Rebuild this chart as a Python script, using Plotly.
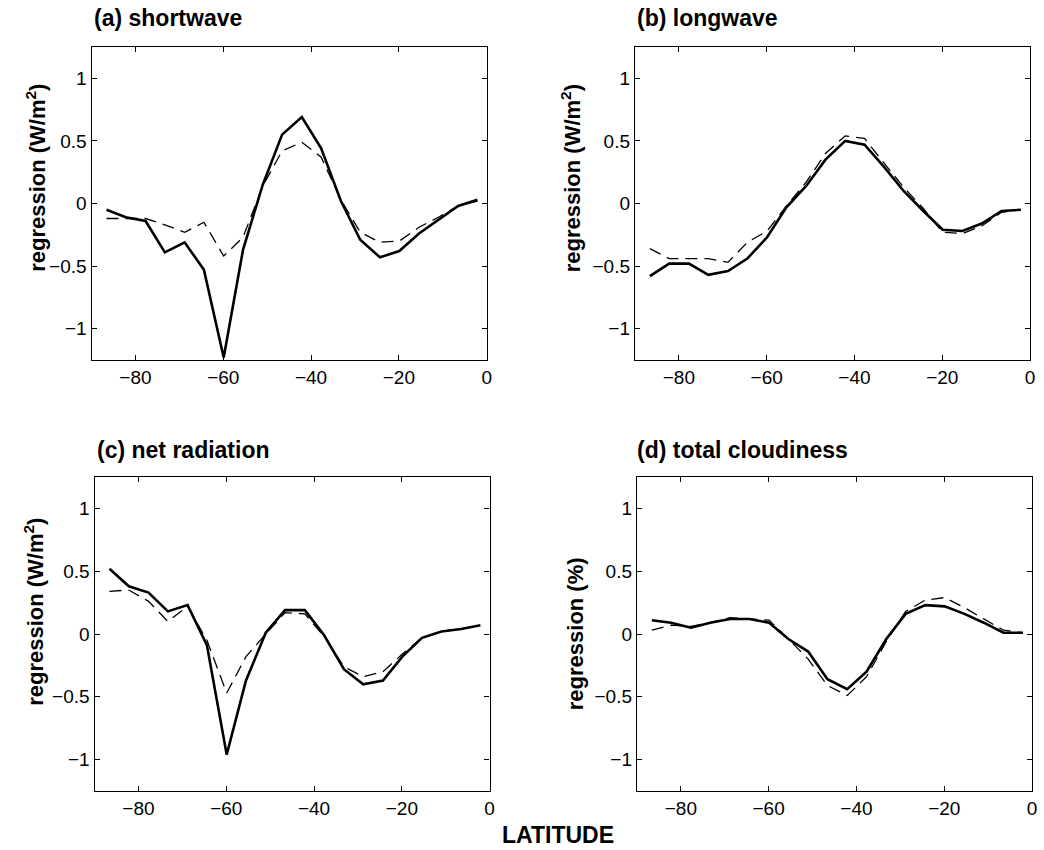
import plotly.graph_objects as go

LAT = [-86.6, -82.2, -77.7, -73.3, -68.8, -64.4, -59.9, -55.5, -51.0, -46.6,
       -42.1, -37.7, -33.2, -28.8, -24.3, -19.9, -15.4, -11.0, -6.5, -2.1]

sw_solid = [-0.05, -0.11, -0.14, -0.39, -0.31, -0.53, -1.23, -0.37, 0.15, 0.55,
            0.69, 0.44, 0.02, -0.29, -0.43, -0.38, -0.24, -0.13, -0.02, 0.03]
sw_dash = [-0.12, -0.12, -0.12, -0.17, -0.23, -0.15, -0.42, -0.27, 0.14, 0.42,
           0.49, 0.37, 0.03, -0.23, -0.31, -0.30, -0.19, -0.11, -0.02, 0.02]

lw_solid = [-0.58, -0.48, -0.48, -0.57, -0.54, -0.44, -0.27, -0.03, 0.14, 0.35,
            0.50, 0.47, 0.29, 0.10, -0.06, -0.21, -0.22, -0.16, -0.06, -0.05]
lw_dash = [-0.36, -0.44, -0.44, -0.44, -0.47, -0.31, -0.22, -0.02, 0.17, 0.40,
           0.54, 0.52, 0.32, 0.13, -0.04, -0.23, -0.24, -0.18, -0.07, -0.05]

net_solid = [0.52, 0.38, 0.33, 0.18, 0.23, -0.09, -0.96, -0.37, 0.01, 0.19,
             0.19, -0.01, -0.28, -0.40, -0.37, -0.18, -0.03, 0.02, 0.04, 0.07]
net_dash = [0.34, 0.35, 0.26, 0.10, 0.22, -0.05, -0.47, -0.18, 0.00, 0.17,
            0.16, -0.02, -0.26, -0.34, -0.30, -0.16, -0.03, 0.02, 0.04, 0.07]

cld_solid = [0.11, 0.09, 0.05, 0.09, 0.12, 0.12, 0.09, -0.04, -0.14, -0.36,
             -0.44, -0.30, -0.04, 0.16, 0.23, 0.22, 0.16, 0.09, 0.01, 0.01]
cld_dash = [0.03, 0.07, 0.06, 0.09, 0.13, 0.12, 0.11, -0.04, -0.20, -0.41,
            -0.49, -0.34, -0.06, 0.18, 0.27, 0.29, 0.21, 0.12, 0.03, 0.01]

PANEL_TITLES = ["(a) shortwave", "(b) longwave", "(c) net radiation", "(d) total cloudiness"]
Y_TITLES = ["regression (W/m<sup>2</sup>)", "regression (W/m<sup>2</sup>)",
            "regression (W/m<sup>2</sup>)", "regression (%)"]
X_TICKS = [-80, -60, -40, -20, 0]
Y_TICKS = [-1, -0.5, 0, 0.5, 1]

W, H = 1044, 850
FONT = "Liberation Sans, Arial, Helvetica, sans-serif"

# panel boxes in pixels: (left, right, top, bottom)
boxes = [(92, 489, 47, 360), (638, 1035, 47, 360),
         (95, 492, 477, 791), (640, 1037, 477, 791)]
ytitle_pos = [(36, 178), (574, 178), (34, 612), (578, 634)]
title_pos = [(92, 18), (638, 18), (95, 450), (638, 450)]

series = [(sw_solid, sw_dash), (lw_solid, lw_dash), (net_solid, net_dash), (cld_solid, cld_dash)]

fig = go.Figure()
layout = dict(
    width=W, height=H, margin=dict(l=0, r=0, t=0, b=0),
    paper_bgcolor="white", plot_bgcolor="white", showlegend=False,
    font=dict(family=FONT, color="black", size=18),
)
annotations = []
for i, ((l, r, t, b), (solid, dash)) in enumerate(zip(boxes, series)):
    n = "" if i == 0 else str(i + 1)
    xa, ya = "x" + n, "y" + n
    fig.add_trace(go.Scatter(x=LAT, y=dash, mode="lines", xaxis=xa, yaxis=ya,
                             line=dict(color="black", width=1.3, dash="12px,7px")))
    fig.add_trace(go.Scatter(x=LAT, y=solid, mode="lines", xaxis=xa, yaxis=ya,
                             line=dict(color="black", width=2.6)))
    axcommon = dict(showline=True, linecolor="black", linewidth=1.3, mirror="ticks",
                    ticks="inside", ticklen=5, tickwidth=1, tickcolor="black",
                    showgrid=False, zeroline=False,
                    tickfont=dict(family=FONT, size=19, color="black"))
    layout["xaxis" + n] = dict(domain=[l / W, r / W], range=[-90, 0], tickvals=X_TICKS,
                               anchor=ya, **axcommon)
    layout["yaxis" + n] = dict(domain=[1 - b / H, 1 - t / H], range=[-1.25, 1.25],
                               tickvals=Y_TICKS, anchor=xa, **axcommon)
    tx, ty = title_pos[i]
    annotations.append(dict(text="<b>%s</b>" % PANEL_TITLES[i], x=tx / W, y=1 - ty / H,
                            xref="paper", yref="paper", xanchor="left", yanchor="middle",
                            showarrow=False, font=dict(family=FONT, size=23, color="black")))
    yx, yy = ytitle_pos[i]
    annotations.append(dict(text="<b>%s</b>" % Y_TITLES[i], x=yx / W, y=1 - yy / H,
                            xref="paper", yref="paper", xanchor="center", yanchor="middle",
                            textangle=-90, showarrow=False,
                            font=dict(family=FONT, size=22, color="black")))

annotations.append(dict(text="<b>LATITUDE</b>", x=561 / W, y=1 - 835 / H, xref="paper",
                        yref="paper", xanchor="center", yanchor="middle", showarrow=False,
                        font=dict(family=FONT, size=23, color="black")))
layout["annotations"] = annotations
fig.update_layout(**layout)
fig.write_html("out.html", config={"displayModeBar": False},
               post_script="document.body.style.margin='0';document.body.style.overflow='hidden';")
